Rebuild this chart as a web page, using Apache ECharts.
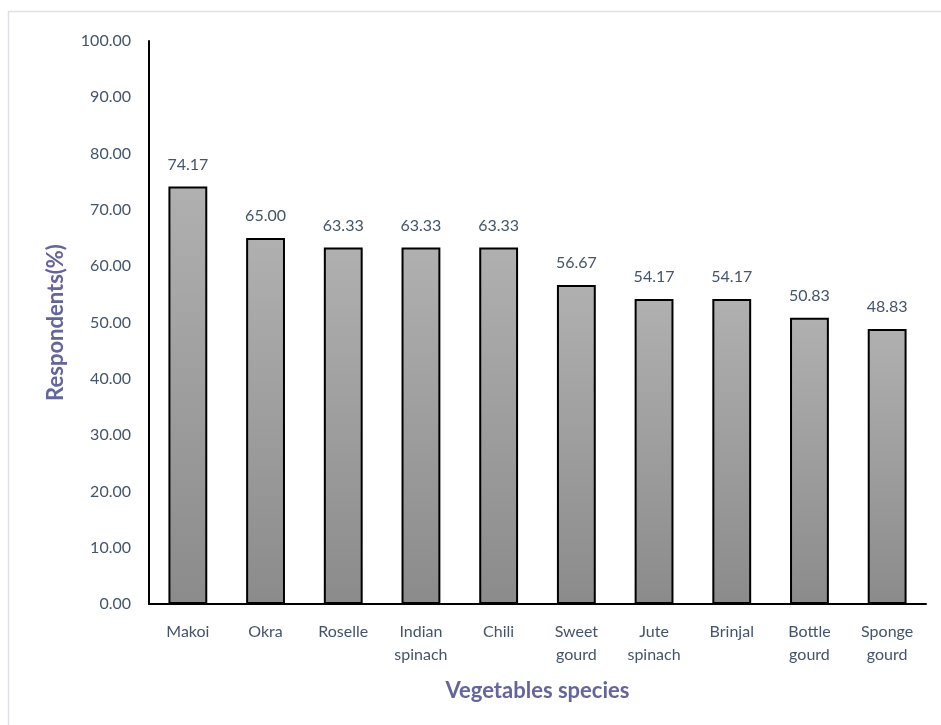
<!DOCTYPE html>
<html>
<head>
<meta charset="utf-8">
<script src="https://cdn.jsdelivr.net/npm/echarts@6/dist/echarts.min.js"></script>
<style>
  html, body { margin: 0; padding: 0; background: #fff; }
  #myCharts { width: 941px; height: 725px; }
</style>
</head>
<body>
<div id="myCharts"></div>
<script>
  // 蔬菜种类及受访者比例
  var categories = ['Makoi', 'Okra', 'Roselle', 'Indian\nspinach', 'Chili',
    'Sweet\ngourd', 'Jute\nspinach', 'Brinjal', 'Bottle\ngourd', 'Sponge\ngourd'];
  var respondents = [74.17, 65.00, 63.33, 63.33, 63.33, 56.67, 54.17, 54.17, 50.83, 48.83];
  var yTicks = [0, 100, 10];  // min, max, interval

  var myChart = echarts.init(document.getElementById('myCharts'));
  var textColor = '#44546a';
  var titleColor = '#63659b';
  var font = 'Lato, "Open Sans", sans-serif';

  var option = {
    animation: false,
    textStyle: { fontFamily: font },
    graphic: [{
      type: 'rect',
      shape: { x: 8.5, y: 11.5, width: 960, height: 760 },
      style: { fill: 'none', stroke: '#dde1e6', lineWidth: 1.5 },
      silent: true
    }],
    grid: { left: 149, right: 15, top: 41, bottom: 121 },
    xAxis: {
      type: 'category',
      data: categories,
      name: 'Vegetables species',
      nameLocation: 'middle',
      nameGap: 76,
      nameTextStyle: { color: titleColor, fontSize: 22, fontWeight: 'bold', fontFamily: font },
      axisLine: { lineStyle: { color: '#000', width: 2 } },
      axisTick: { show: false },
      axisLabel: { color: textColor, fontSize: 16, margin: 16, lineHeight: 23, interval: 0, fontFamily: font }
    },
    yAxis: {
      type: 'value',
      min: yTicks[0],
      max: yTicks[1],
      interval: yTicks[2],
      name: 'Respondents(%)',
      nameLocation: 'middle',
      nameGap: 82,
      nameTextStyle: { color: titleColor, fontSize: 22, fontWeight: 'bold', fontFamily: font },
      axisLine: { show: true, lineStyle: { color: '#000', width: 2 } },
      axisTick: { show: false },
      splitLine: { show: false },
      axisLabel: {
        color: textColor, fontSize: 16, margin: 18, fontFamily: font,
        formatter: function (v) { return v.toFixed(2); }
      }
    },
    series: [{
      type: 'bar',
      data: respondents,
      barWidth: '50%',
      itemStyle: {
        color: new echarts.graphic.LinearGradient(0, 0, 0, 1, [
          { offset: 0, color: '#b0b0b0' },
          { offset: 1, color: '#8b8b8b' }
        ]),
        borderColor: '#000',
        borderWidth: 2
      },
      label: {
        show: true,
        position: 'top',
        distance: 14,
        color: textColor,
        fontSize: 16,
        fontFamily: font,
        formatter: function (p) { return p.value.toFixed(2); }
      }
    }]
  };
  myChart.setOption(option);
</script>
</body>
</html>
